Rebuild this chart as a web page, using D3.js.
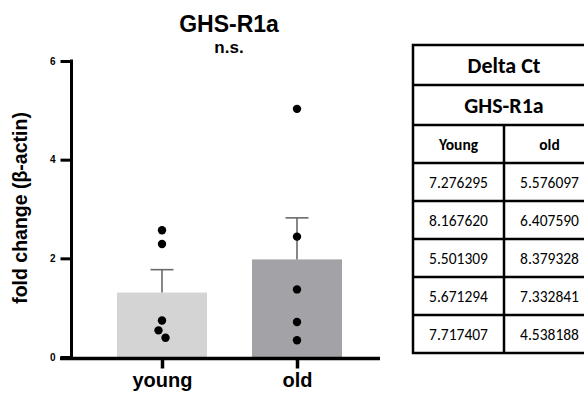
<!DOCTYPE html>
<html><head><meta charset="utf-8">
<script src="https://cdn.jsdelivr.net/npm/d3@7"></script>
<style>html,body{margin:0;padding:0;background:#fff;}svg{display:block;}</style>
</head><body><svg id="c" width="584" height="396"></svg>
<script>
const categories = ["young", "old"];
const youngValues = [2.57, 2.29, 0.74, 0.54, 0.39];
const oldValues = [5.03, 2.44, 1.37, 0.71, 0.34];
const yTicks = [0, 2, 4, 6];
const title = "GHS-R1a";
const significance = "n.s.";
const yLabel = "fold change (β-actin)";
const tableTitle = "Delta Ct";
const tableGene = "GHS-R1a";
const tableHeaders = ["Young", "old"];
const tableYoung = ["7.276295", "8.167620", "5.501309", "5.671294", "7.717407"];
const tableOld = ["5.576097", "6.407590", "8.379328", "7.332841", "4.538188"];

const seriesVals = [youngValues, oldValues];
const barColors = ["#d4d4d4", "#a3a2a7"];
const svg = d3.select("#c");
const FONT = "'Liberation Sans', Arial, sans-serif";

const y = d3.scaleLinear().domain([0, 6]).range([357, 61]);
const x = d3.scaleBand().domain(categories).range([72, 387]).paddingInner(1/3).paddingOuter(1/3);

const stats = seriesVals.map(v => {
  const m = d3.mean(v);
  const sem = d3.deviation(v) / Math.sqrt(v.length);
  return {m, sem};
});

// bars
svg.append("g").selectAll("rect").data(categories).join("rect")
  .attr("x", d => x(d)).attr("width", x.bandwidth())
  .attr("y", (d, i) => y(stats[i].m))
  .attr("height", (d, i) => y(0) - y(stats[i].m))
  .attr("fill", (d, i) => barColors[i]);

// error bars (upward)
const eg = svg.append("g").attr("stroke", "#6a6a6a").attr("stroke-width", 1.6);
categories.forEach((c, i) => {
  const cx = x(c) + x.bandwidth() / 2;
  const top = y(stats[i].m + stats[i].sem);
  eg.append("line").attr("x1", cx).attr("x2", cx).attr("y1", y(stats[i].m)).attr("y2", top);
  eg.append("line").attr("x1", cx - 11.5).attr("x2", cx + 11.5).attr("y1", top).attr("y2", top);
});

// points with simple collision offset
const r = 4.2;
categories.forEach((c, i) => {
  const cx = x(c) + x.bandwidth() / 2;
  const placed = [];
  const sorted = seriesVals[i].slice().sort((a, b) => b - a);
  sorted.forEach(v => {
    const py = y(v);
    const offs = [0, -3.5, 3.5, -7, 7, -10.5, 10.5];
    let ox = 0;
    for (const o of offs) {
      if (placed.every(p => Math.hypot(p[0] - o, p[1] - py) >= 10)) { ox = o; break; }
    }
    placed.push([ox, py]);
    svg.append("circle").attr("cx", cx + ox).attr("cy", py).attr("r", r).attr("fill", "#000");
  });
});

// y axis
const ya = svg.append("g").attr("transform", "translate(71.5,0)")
  .call(d3.axisLeft(y).tickValues(yTicks).tickFormat(d3.format("d")).tickSize(11).tickSizeOuter(0).tickPadding(5));
ya.select(".domain").attr("stroke-width", 3).attr("d", `M0,${y(6)-1.5}V${y(0)}`);
ya.selectAll(".tick line").attr("stroke-width", 3);
ya.selectAll(".tick text").attr("font-family", FONT).attr("font-weight", "bold").attr("font-size", 10).attr("fill", "#000");

// x axis
const xa = svg.append("g").attr("transform", `translate(0,${y(0) + 1.5})`)
  .call(d3.axisBottom(d3.scalePoint().domain(categories).range([x("young") + x.bandwidth()/2, x("old") + x.bandwidth()/2])).tickSize(10).tickSizeOuter(0).tickPadding(4));
xa.select(".domain").attr("stroke-width", 3.5).attr("d", "M60,0H380");
xa.selectAll(".tick line").attr("stroke-width", 3.5);
xa.selectAll(".tick text").attr("font-family", FONT).attr("font-weight", "bold").attr("font-size", 20).attr("fill", "#000");

// y label
svg.append("text").attr("transform", "translate(27,208) rotate(-90)")
  .attr("text-anchor", "middle").attr("font-family", FONT).attr("font-weight", "bold")
  .attr("font-size", 19.5).text(yLabel);

// titles
svg.append("text").attr("x", 229).attr("y", 32).attr("text-anchor", "middle")
  .attr("font-family", FONT).attr("font-weight", "bold").attr("font-size", 23).text(title);
svg.append("text").attr("x", 229).attr("y", 53).attr("text-anchor", "middle")
  .attr("font-family", FONT).attr("font-weight", "bold").attr("font-size", 17).text(significance);

// table
const TF = "Carlito, Lato, 'Open Sans', sans-serif";
const tx0 = 413, tx1 = 595, tmid = (tx0 + tx1) / 2;
const rowH = [40, 40, 38, 38, 38, 38, 38, 38];
const rowY = [45];
rowH.forEach(h => rowY.push(rowY[rowY.length - 1] + h));
const tg = svg.append("g");
tg.append("rect").attr("x", tx0).attr("y", rowY[0]).attr("width", tx1 - tx0).attr("height", rowY[rowY.length-1] - rowY[0])
  .attr("fill", "none").attr("stroke", "#000").attr("stroke-width", 2.5);
rowY.slice(1, -1).forEach(yy => tg.append("line").attr("x1", tx0).attr("x2", tx1).attr("y1", yy).attr("y2", yy)
  .attr("stroke", "#000").attr("stroke-width", 2.5));
tg.append("line").attr("x1", tmid).attr("x2", tmid).attr("y1", rowY[2]).attr("y2", rowY[rowY.length-1])
  .attr("stroke", "#000").attr("stroke-width", 2.5);
function cell(txt, cx, ri, size, bold) {
  tg.append("text").attr("x", cx).attr("y", (rowY[ri] + rowY[ri+1]) / 2).attr("dy", "0.36em")
    .attr("text-anchor", "middle").attr("font-family", TF).attr("font-weight", bold ? "bold" : "normal")
    .attr("font-size", size).attr("fill", "#000").text(txt);
}
cell(tableTitle, tmid, 0, 22, true);
cell(tableGene, tmid, 1, 22, true);
const c0 = (tx0 + tmid) / 2, c1 = (tmid + tx1) / 2;
cell(tableHeaders[0], c0, 2, 15.5, true);
cell(tableHeaders[1], c1, 2, 15.5, true);
tableYoung.forEach((v, i) => cell(v, c0, 3 + i, 15.5, false));
tableOld.forEach((v, i) => cell(v, c1, 3 + i, 15.5, false));
</script></body></html>
